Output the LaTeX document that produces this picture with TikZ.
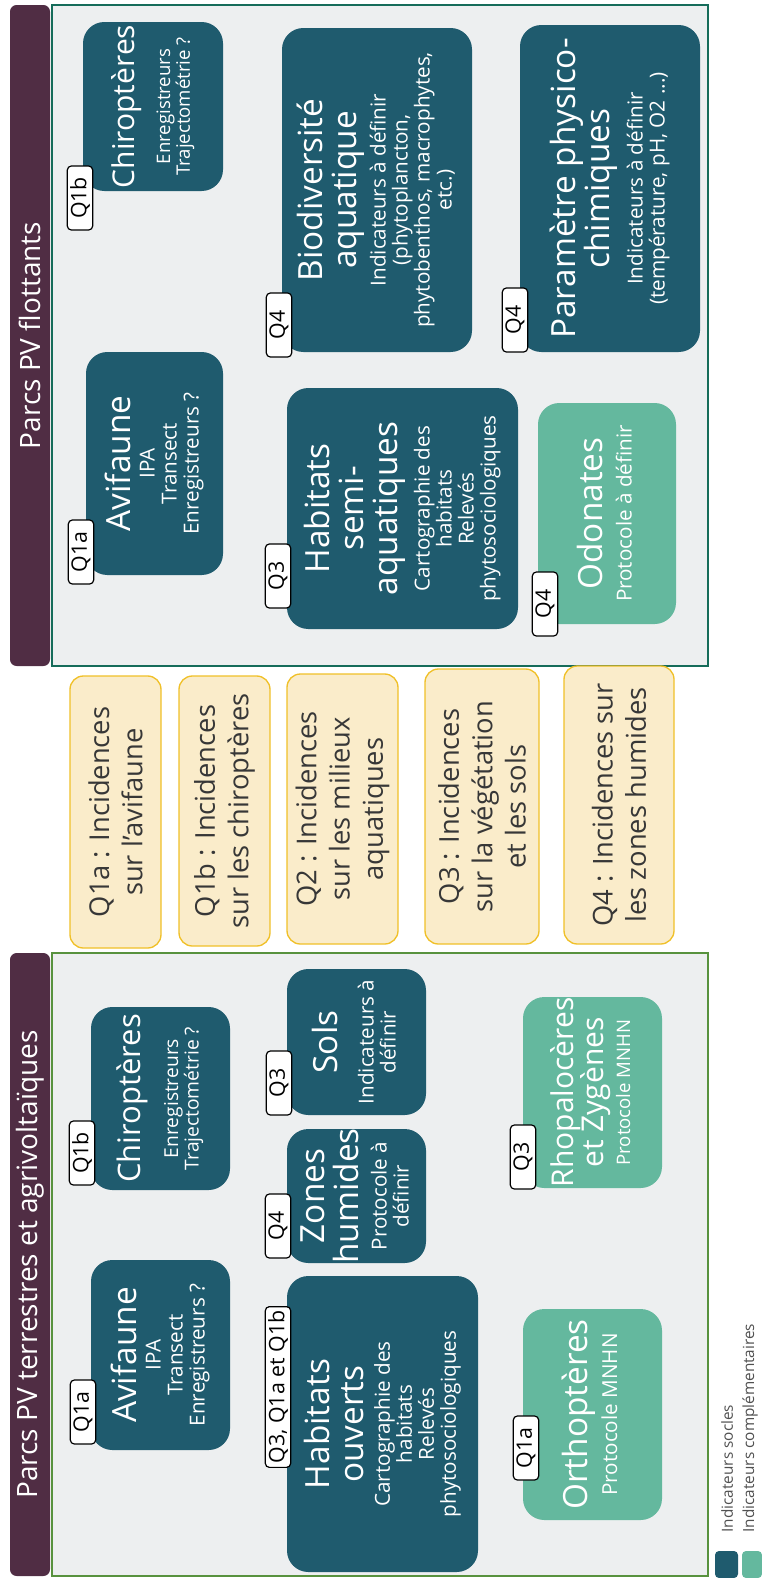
\documentclass[tikz,border=0pt]{standalone}
\usepackage{fontspec}
\setmainfont{Open Sans}
\usetikzlibrary{fit}

\definecolor{bleusocle}{RGB}{31,91,110}
\definecolor{vertcompl}{RGB}{100,184,158}
\definecolor{fondcadre}{RGB}{237,239,240}
\definecolor{bordF}{RGB}{22,108,90}
\definecolor{bordT}{RGB}{88,146,62}
\definecolor{prune}{RGB}{80,45,68}
\definecolor{jaunefond}{RGB}{250,236,202}
\definecolor{jaunebord}{RGB}{240,192,40}
\definecolor{texteq}{RGB}{55,55,55}
\definecolor{texteleg}{RGB}{80,80,80}

\setlength{\lineskip}{0pt}
\setlength{\lineskiplimit}{0pt}

% une ligne de titre / une ligne de detail
\newcommand{\grand}[1]{{\fontsize{25}{0}\selectfont\vrule height 19.5pt depth 6pt width 0pt\relax #1}}
\newcommand{\petit}[1]{\vrule height 12pt depth 4.5pt width 0pt\relax #1}

\begin{document}
\begin{tikzpicture}[x=0.75pt,y=-0.75pt,
  cadre/.style={line width=1pt, fill=fondcadre, inner sep=0pt},
  entete/.style={fill=prune, rounded corners=5pt, inner sep=0pt},
  socle/.style={fill=bleusocle, rounded corners=16pt, inner sep=0pt},
  compl/.style={fill=vertcompl, rounded corners=16pt, inner sep=0pt},
  question/.style={draw=jaunebord, line width=1pt, fill=jaunefond, rounded corners=10pt, inner sep=0pt},
  texte/.style={rotate=90, text=white, align=center, inner sep=0pt, font=\fontsize{15.5}{0}\selectfont},
  qtexte/.style={rotate=90, text=texteq, align=center, font=\fontsize{20.5}{25}\selectfont},
  etiq/.style={rotate=90, draw=black, line width=0.9pt, fill=white, rounded corners=3pt, minimum width=48pt, minimum height=19pt, inner xsep=3pt, inner ysep=0pt, font=\fontsize{16}{18}\selectfont},
  bandeau/.style={rotate=90, text=white, font=\fontsize{21}{25}\selectfont},
  legende/.style={rotate=90, anchor=west, text=texteleg, font=\fontsize{11.5}{14}\selectfont}]
  \useasboundingbox (0,0) rectangle (762,1578);

  % Parcs PV flottants
  \node[cadre, draw=bordF, fit={(52,5) (708,666)}] (cadreF) {};
  \node[entete, fit={(10,5) (50,666)}] (enteteF) {};
  \node[bandeau] (bandeauF) at (enteteF.center) {Parcs PV flottants};

  \node[socle, fit={(83,22) (223,191)}] (chiF) {};
  \node[texte, scale=0.9] (chiF-t) at (chiF.center) {\grand{Chiroptères}\\[12pt]\petit{Enregistreurs}\\\petit{Trajectométrie ?}};

  \node[socle, fit={(86,352) (223,575)}] (avF) {};
  \node[texte] (avF-t) at (avF.center) {\grand{Avifaune}\\\petit{IPA}\\\petit{Transect}\\\petit{Enregistreurs ?}};

  \node[socle, fit={(282,28) (472,352)}] (bioF) {};
  \node[texte] (bioF-t) at (bioF.center) {\grand{Biodiversité}\\\grand{aquatique}\\[4pt]\petit{Indicateurs à définir}\\\petit{(phytoplancton,}\\\petit{phytobenthos, macrophytes,}\\\petit{etc.)}};

  \node[socle, fit={(287,388) (518,629)}] (habF) {};
  \node[texte] (habF-t) at (habF.center) {\grand{Habitats}\\\grand{semi-}\\\grand{aquatiques}\\[6pt]\petit{Cartographie des}\\\petit{habitats}\\\petit{Relevés}\\\petit{phytosociologiques}};

  \node[socle, fit={(520,25) (700,352)}] (parF) {};
  \node[texte] (parF-t) at (parF.center) {\grand{Paramètre physico-}\\\grand{chimiques}\\[7pt]\petit{Indicateurs à définir}\\\petit{(température, pH, O2 ...)}};

  \node[compl, fit={(538,403) (676,624)}] (odoF) {};
  \node[texte] (odoF-t) at (odoF.center) {\grand{Odonates}\\[4pt]\petit{Protocole à définir}};

  \node[etiq] (eChiF) at (80,198) {Q1b};
  \node[etiq] (eAvF) at (81,552) {Q1a};
  \node[etiq] (eBioF) at (279,325) {Q4};
  \node[etiq] (eHabF) at (278,576) {Q3};
  \node[etiq] (eParF) at (515,320) {Q4};
  \node[etiq] (eOdoF) at (545,604) {Q4};

  % questions
  \node[question, fit={(70,676) (161,948)}] (q1a) {};
  \node[qtexte] (q1a-t) at (q1a.center) {Q1a : Incidences\\sur l'avifaune};
  \node[question, fit={(179,676) (270,946)}] (q1b) {};
  \node[qtexte] (q1b-t) at (q1b.center) {Q1b : Incidences\\sur les chiroptères};
  \node[question, fit={(287,674) (398,944)}] (q2) {};
  \node[qtexte] (q2-t) at (q2.center) {Q2 : Incidences\\sur les milieux\\aquatiques};
  \node[question, fit={(425,669) (539,944)}] (q3) {};
  \node[qtexte] (q3-t) at (q3.center) {Q3 : Incidences\\sur la végétation\\et les sols};
  \node[question, fit={(564,666) (674,944)}] (q4) {};
  \node[qtexte] (q4-t) at (q4.center) {Q4 : Incidences sur\\les zones humides};

  % Parcs PV terrestres et agrivoltaiques
  \node[cadre, draw=bordT, fit={(52,953) (708,1576)}] (cadreT) {};
  \node[entete, fit={(10,953) (50,1576)}] (enteteT) {};
  \node[bandeau] (bandeauT) at (enteteT.center) {Parcs PV terrestres et agrivoltaïques};

  \node[socle, fit={(91,1260) (230,1450)}] (avT) {};
  \node[texte] (avT-t) at (avT.center) {\grand{Avifaune}\\\petit{IPA}\\\petit{Transect}\\\petit{Enregistreurs ?}};

  \node[socle, fit={(91,1007) (230,1190)}] (chiT) {};
  \node[texte, scale=0.93] (chiT-t) at (chiT.center) {\grand{Chiroptères}\\[12pt]\petit{Enregistreurs}\\\petit{Trajectométrie ?}};

  \node[socle, fit={(287,1276) (478,1572)}] (habT) {};
  \node[texte] (habT-t) at (habT.center) {\grand{Habitats}\\\grand{ouverts}\\[2pt]\petit{Cartographie des}\\\petit{habitats}\\\petit{Relevés}\\\petit{phytosociologiques}};

  \node[socle, fit={(287,1129) (426,1263)}] (zonT) {};
  \node[texte] (zonT-t) at (zonT.center) {\grand{Zones}\\\grand{humides}\\[3pt]\petit{Protocole à}\\\petit{définir}};

  \node[socle, fit={(287,969) (426,1115)}] (solT) {};
  \node[texte] (solT-t) at (solT.center) {\grand{Sols}\\[9pt]\petit{Indicateurs à}\\\petit{définir}};

  \node[compl, fit={(523,1309) (662,1520)}] (ortT) {};
  \node[texte] (ortT-t) at (ortT.center) {\grand{Orthoptères}\\[4pt]\petit{Protocole MNHN}};

  \node[compl, fit={(523,997) (662,1188)}] (rhoT) {};
  \node[texte, scale=0.9] (rhoT-t) at (rhoT.center) {\grand{Rhopalocères}\\\grand{et Zygènes}\\[4pt]\petit{Protocole MNHN}};

  \node[etiq] (eAvT) at (83,1412) {Q1a};
  \node[etiq] (eChiT) at (82,1153) {Q1b};
  \node[etiq] (eHabT) at (278,1387) {Q3, Q1a et Q1b};
  \node[etiq] (eZonT) at (278,1226) {Q4};
  \node[etiq] (eSolT) at (279,1083) {Q3};
  \node[etiq] (eOrtT) at (526,1448) {Q1a};
  \node[etiq] (eRhoT) at (523,1157) {Q3};

  % legende
  \node[socle, rounded corners=3pt, fit={(715,1551) (738,1578)}] (legS) {};
  \node[compl, rounded corners=3pt, fit={(742,1551) (762,1578)}] (legC) {};
  \node[legende] (legS-t) at (727,1537) {Indicateurs socles};
  \node[legende] (legC-t) at (750,1537) {Indicateurs complémentaires};
\end{tikzpicture}
\end{document}
